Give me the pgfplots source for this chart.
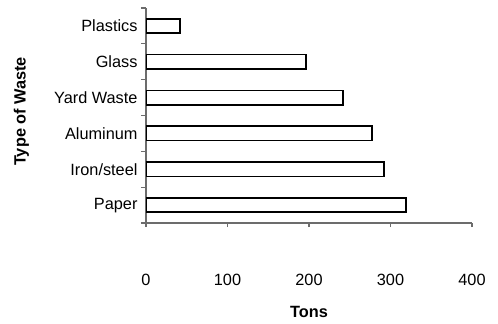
\documentclass[border=0pt]{standalone}
\usepackage{fontspec}
\setmainfont{Liberation Sans}
\usepackage{pgfplots}
\pgfplotsset{compat=1.18}
\begin{document}
\begin{tikzpicture}
\path[use as bounding box] (0,0) rectangle (498bp,-324bp);
\begin{axis}[
  at={(146bp,-223bp)}, anchor=south west,
  scale only axis, width=326bp, height=215bp,
  font=\fontsize{16.3bp}{19bp}\selectfont,
  /pgf/number format/assume math mode=true,
  xbar, bar width=0.4,
  xmin=0, xmax=400,
  ymin=-0.5, ymax=5.5,
  axis x line*=bottom, axis y line*=left,
  hide obscured x ticks=false,
  axis line style={draw=gray!85!black, line width=1.2bp, -},
  xtick={0,100,200,300,400},
  x tick style={draw=gray!85!black, line width=1.2bp},
  xtick align=outside,
  major tick length=4bp,
  xticklabel style={yshift=-44bp},
  ytick={0,1,2,3,4,5},
  yticklabels={Paper,Iron/steel,Aluminum,Yard Waste,Glass,Plastics},
  y tick style={draw=none},
  minor ytick={-0.5,0.5,1.5,2.5,3.5,4.5,5.5},
  minor y tick style={draw=gray!85!black, line width=1.2bp},
  minor tick length=5bp,
  ytick align=outside,
  yticklabel style={xshift=-1bp},
  xlabel={\textbf{Tons}},
  xlabel style={at={(axis description cs:0.5,-0.416)}, anchor=center},
  ylabel={\textbf{Type of Waste}},
  ylabel style={at={(axis description cs:-0.382,0.519)}, anchor=center, rotate=0},
]
\addplot[draw=black, fill=white, line width=1.6bp] coordinates {(319,0) (292,1) (277,2) (242,3) (196,4) (42,5)};
\end{axis}
\end{tikzpicture}
\end{document}
